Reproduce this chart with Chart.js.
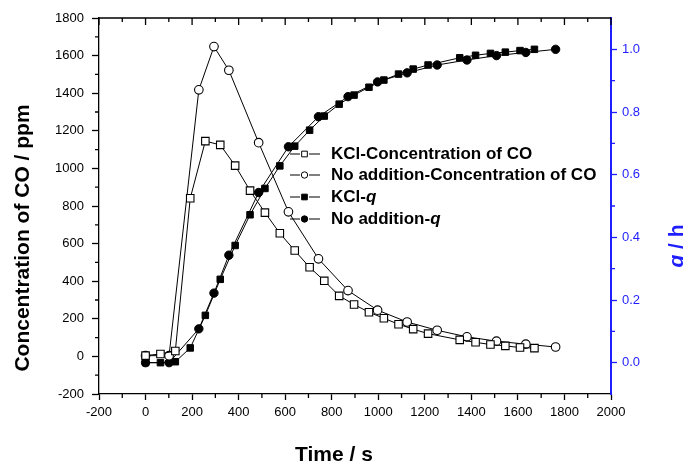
<!DOCTYPE html>
<html>
<head>
<meta charset="utf-8">
<script src="https://cdn.jsdelivr.net/npm/chart.js@4.4.1/dist/chart.umd.min.js"></script>
<style>
  html, body { margin: 0; padding: 0; background: #fff; overflow: hidden; }
  #wrap { width: 683px; height: 468px; }
</style>
</head>
<body>
<div id="wrap"><canvas id="chartCO" width="683" height="468"></canvas></div>
<script>
// CO concentration (left axis) and q (right axis) against time, KCl vs no addition

const timeKCl = [0, 64, 128, 192, 257, 321, 385, 449, 513, 577, 641, 705, 768, 832, 896, 960, 1024, 1087, 1150, 1214, 1350, 1418, 1482, 1546, 1609, 1671];
const coKCl   = [4, 13, 29, 841, 1145, 1125, 1015, 882, 765, 655, 563, 474, 402, 322, 276, 235, 203, 171, 145, 121, 88, 75, 63, 56, 47, 44];
const qKCl    = [0, 0, 0.003, 0.047, 0.151, 0.266, 0.374, 0.472, 0.556, 0.628, 0.691, 0.742, 0.787, 0.825, 0.854, 0.879, 0.902, 0.921, 0.937, 0.95, 0.973, 0.981, 0.987, 0.991, 0.996, 1.0];

const timeNo = [0, 101, 229, 294, 358, 486, 614, 743, 870, 997, 1124, 1253, 1381, 1508, 1634, 1762];
const coNo   = [4, 4, 1418, 1648, 1522, 1137, 769, 519, 350, 246, 183, 139, 104, 81, 65, 50];
const qNo    = [0, 0, 0.108, 0.222, 0.343, 0.543, 0.689, 0.785, 0.849, 0.896, 0.925, 0.95, 0.966, 0.98, 0.99, 1.0];

const timeTicks = [-200, 0, 200, 400, 600, 800, 1000, 1200, 1400, 1600, 1800, 2000];
const coTicks   = [-200, 0, 200, 400, 600, 800, 1000, 1200, 1400, 1600, 1800];
const qTicks    = [0, 0.2, 0.4, 0.6, 0.8, 1.0];

const seriesLabels = ['KCl-Concentration of CO', 'No addition-Concentration of CO', 'KCl-q', 'No addition-q'];

const FONT = '"Liberation Sans", Arial, Helvetica, sans-serif';
const BLUE = '#1e1eff';

const pts = (xs, ys) => xs.map((x, i) => ({ x, y: ys[i] }));

// minor ticks, inward top ticks and the top frame line
const axisDecor = {
  id: 'axisDecor',
  afterDraw(chart) {
    const { ctx, chartArea: a, scales } = chart;
    const sx = scales.x, sy = scales.y, sq = scales.y1;
    ctx.save();
    ctx.lineWidth = 1.3;
    ctx.strokeStyle = '#000';
    ctx.beginPath();
    ctx.moveTo(a.left, a.top); ctx.lineTo(a.right, a.top);
    for (let v = -200; v <= 2000; v += 100) {
      const px = sx.getPixelForValue(v);
      const major = v % 200 === 0;
      ctx.moveTo(px, a.top); ctx.lineTo(px, a.top + (major ? 7 : 4));
      if (!major) { ctx.moveTo(px, a.bottom); ctx.lineTo(px, a.bottom + 4); }
    }
    for (let v = -100; v < 1800; v += 200) {
      const py = sy.getPixelForValue(v);
      ctx.moveTo(a.left, py); ctx.lineTo(a.left - 4, py);
    }
    ctx.stroke();
    ctx.strokeStyle = BLUE;
    ctx.beginPath();
    for (let k = 0; k < 5; k++) {
      const py = sq.getPixelForValue(0.1 + 0.2 * k);
      ctx.moveTo(a.right, py); ctx.lineTo(a.right + 4, py);
    }
    ctx.stroke();
    ctx.restore();
  }
};

// axis titles placed freely
const axisTitles = {
  id: 'axisTitles',
  afterDraw(chart) {
    const { ctx } = chart;
    ctx.save();
    ctx.fillStyle = '#000';
    ctx.font = 'bold 21px ' + FONT;
    ctx.textAlign = 'center';
    ctx.textBaseline = 'middle';
    ctx.fillText('Time / s', 334, 455);

    ctx.save();
    ctx.translate(23, 238);
    ctx.rotate(-Math.PI / 2);
    ctx.fillText('Concentration of CO / ppm', 0, 0);
    ctx.restore();

    // right title, rotated like the left one
    ctx.save();
    ctx.translate(683, 246);
    ctx.rotate(-Math.PI / 2);
    ctx.fillStyle = BLUE;
    ctx.textBaseline = 'alphabetic';
    ctx.textAlign = 'left';
    const italic = 'italic bold 21px ' + FONT, bold = 'bold 21px ' + FONT;
    ctx.font = italic; const wq = ctx.measureText('q').width;
    ctx.font = bold;   const wr = ctx.measureText(' / h').width;
    let x0 = -(wq + wr) / 2;
    ctx.font = italic; ctx.fillText('q', x0, 0);
    ctx.font = bold;   ctx.fillText(' / h', x0 + wq, 0);
    ctx.restore();
    ctx.restore();
  }
};

// legend entries: line - symbol - line, then the label
const seriesKey = {
  id: 'seriesKey',
  afterDraw(chart) {
    const { ctx } = chart;
    const rows = [154, 175, 197, 219];
    ctx.save();
    chart.data.datasets.forEach((ds, i) => {
      const y = rows[i];
      ctx.strokeStyle = '#000';
      ctx.lineWidth = 1;
      ctx.beginPath();
      ctx.moveTo(290, y); ctx.lineTo(300, y);
      ctx.moveTo(309, y); ctx.lineTo(320, y);
      ctx.stroke();
      ctx.fillStyle = ds.pointBackgroundColor;
      ctx.lineWidth = 1;
      Chart.helpers.drawPoint(ctx, {
        pointStyle: ds.pointStyle, rotation: 0,
        radius: ds.pointStyle === 'rect' ? 4 : 3.2, borderWidth: 1
      }, 304.5, y);
      ctx.fillStyle = '#000';
      ctx.textAlign = 'left';
      ctx.textBaseline = 'middle';
      const label = ds.label;
      ctx.font = 'bold 17px ' + FONT;
      if (label.endsWith('-q')) {
        const head = label.slice(0, -1);
        ctx.fillText(head, 331, y);
        const w = ctx.measureText(head).width;
        ctx.font = 'italic bold 17px ' + FONT;
        ctx.fillText('q', 331 + w, y);
      } else {
        ctx.fillText(label, 331, y);
      }
    });
    ctx.restore();
  }
};

const tickFont = { family: FONT, size: 13 };

new Chart(document.getElementById('chartCO'), {
  type: 'scatter',
  data: {
    datasets: [
      {
        label: seriesLabels[0], data: pts(timeKCl, coKCl), yAxisID: 'y',
        showLine: true, borderColor: '#000', borderWidth: 1,
        pointStyle: 'rect', pointRadius: 5.3, pointBorderWidth: 1.1,
        pointBackgroundColor: '#fff', pointBorderColor: '#000'
      },
      {
        label: seriesLabels[1], data: pts(timeNo, coNo), yAxisID: 'y',
        showLine: true, borderColor: '#000', borderWidth: 1,
        pointStyle: 'circle', pointRadius: 4.3, pointBorderWidth: 1.1,
        pointBackgroundColor: '#fff', pointBorderColor: '#000'
      },
      {
        label: seriesLabels[2], data: pts(timeKCl, qKCl), yAxisID: 'y1',
        showLine: true, borderColor: '#000', borderWidth: 1,
        pointStyle: 'rect', pointRadius: 4.6, pointBorderWidth: 1,
        pointBackgroundColor: '#000', pointBorderColor: '#000'
      },
      {
        label: seriesLabels[3], data: pts(timeNo, qNo), yAxisID: 'y1',
        showLine: true, borderColor: '#000', borderWidth: 1,
        pointStyle: 'circle', pointRadius: 4.2, pointBorderWidth: 1,
        pointBackgroundColor: '#000', pointBorderColor: '#000'
      }
    ]
  },
  options: {
    responsive: false,
    animation: false,
    devicePixelRatio: 1,
    layout: { padding: { top: 18, left: 0, right: 0, bottom: 0 } },
    elements: { line: { tension: 0 } },
    plugins: { legend: { display: false }, tooltip: { enabled: false } },
    scales: {
      x: {
        type: 'linear', position: 'bottom', min: -200, max: 2000,
        afterBuildTicks: s => { s.ticks = timeTicks.map(value => ({ value })); },
        afterFit: s => { s.height = 74; },
        ticks: { font: tickFont, color: '#000', padding: 5, autoSkip: false, maxRotation: 0, callback: v => String(v) },
        grid: { drawOnChartArea: false, tickLength: 6, tickColor: '#000', tickWidth: 1.3 },
        border: { color: '#000', width: 1.3 }
      },
      y: {
        type: 'linear', position: 'left', min: -200, max: 1800,
        afterBuildTicks: s => { s.ticks = coTicks.map(value => ({ value })); },
        afterFit: s => { s.width = 99; },
        ticks: { font: tickFont, color: '#000', padding: 8, autoSkip: false, callback: v => String(v) },
        grid: { drawOnChartArea: false, tickLength: 7, tickColor: '#000', tickWidth: 1.3 },
        border: { color: '#000', width: 1.3 }
      },
      y1: {
        type: 'linear', position: 'right', min: -0.1, max: 1.1,
        afterBuildTicks: s => { s.ticks = qTicks.map(value => ({ value })); },
        afterFit: s => { s.width = 72; },
        ticks: { font: tickFont, color: BLUE, padding: 5, autoSkip: false, callback: v => v.toFixed(1) },
        grid: { drawOnChartArea: false, tickLength: 6, tickColor: BLUE, tickWidth: 1.3 },
        border: { color: BLUE, width: 2 }
      }
    }
  },
  plugins: [axisDecor, axisTitles, seriesKey]
});
</script>
</body>
</html>
